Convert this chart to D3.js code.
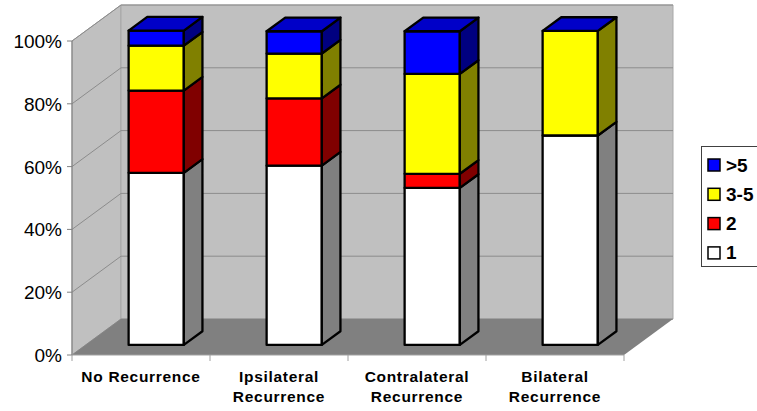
<!DOCTYPE html>
<html>
<head>
<meta charset="utf-8">
<script src="https://cdn.jsdelivr.net/npm/d3@7"></script>
<style>
  html, body { margin: 0; padding: 0; background: #fff; }
  svg { display: block; font-family: Arial, "Liberation Sans", sans-serif; }
</style>
</head>
<body>
<svg id="chart" width="757" height="411"></svg>
<script>
// Categories (x axis) and their two-line labels
const categories = ["No Recurrence", "Ipsilateral Recurrence", "Contralateral Recurrence", "Bilateral Recurrence"];
const categoryLines = [["No Recurrence"], ["Ipsilateral", "Recurrence"], ["Contralateral", "Recurrence"], ["Bilateral", "Recurrence"]];

// Series (stack order bottom → top), percentage of each category
const seriesNames = ["1", "2", "3-5", ">5"];
const series1 = [54.8, 57.1, 50.0, 66.7];
const series2 = [26.2, 21.4, 4.5, 0];
const series3to5 = [14.3, 14.3, 31.8, 33.3];
const seriesOver5 = [4.8, 7.1, 13.6, 0];

const yTicks = [0, 20, 40, 60, 80, 100];
const yTickLabels = ["0%", "20%", "40%", "60%", "80%", "100%"];

// Face colours per series: front, side (shaded), top
const frontColors = ["#ffffff", "#ff0000", "#ffff00", "#0000ff"];
const sideColors = ["#808080", "#800000", "#808000", "#000080"];
const topColors = ["#e0e0e0", "#c00000", "#c0c000", "#0000c8"];

const svg = d3.select("#chart");

// Front plane scales
const x = d3.scaleBand().domain(categories).range([72, 624]).paddingInner(0.6).paddingOuter(0.3);
const y = d3.scaleLinear().domain([0, 100]).range([355, 41]);
// Depth: z in [0,1] shifts a point up and to the right
const depthX = d3.scaleLinear().domain([0, 1]).range([0, 49]);
const depthY = d3.scaleLinear().domain([0, 1]).range([0, -36]);
const P = (sx, sy, z) => [sx + depthX(z), sy + depthY(z)];

const x0 = x.range()[0], x1 = x.range()[1];
const yBot = y(0), yTop = y(100);
const poly = pts => "M" + pts.map(p => p.join(",")).join("L") + "Z";

// Walls and floor
const g = svg.append("g");
g.append("path").attr("d", poly([P(x0, yBot, 0), P(x0, yTop, 0), P(x0, yTop, 1), P(x0, yBot, 1)]))
  .attr("fill", "#c0c0c0").attr("stroke", "#a0a0a0").attr("stroke-width", 1);
g.append("path").attr("d", poly([P(x0, yTop, 1), P(x1, yTop, 1), P(x1, yBot, 1), P(x0, yBot, 1)]))
  .attr("fill", "#c0c0c0").attr("stroke", "#a8a8a8").attr("stroke-width", 1);

// Gridlines on the side wall and back wall
yTicks.forEach(t => {
  const a = P(x0, y(t), 0), b = P(x0, y(t), 1), c = P(x1, y(t), 1);
  g.append("path").attr("d", `M${a}L${b}L${c}`).attr("fill", "none")
    .attr("stroke", "#8c8c8c").attr("stroke-width", 1);
});

g.append("path").attr("d", poly([P(x0, yBot, 0), P(x1, yBot, 0), P(x1, yBot, 1), P(x0, yBot, 1)]))
  .attr("fill", "#808080");

// Axes
g.append("line").attr("x1", x0).attr("x2", x0).attr("y1", yTop).attr("y2", yBot)
  .attr("stroke", "#808080").attr("stroke-width", 1);
yTicks.forEach(t => {
  g.append("line").attr("x1", x0 - 5).attr("x2", x0).attr("y1", y(t)).attr("y2", y(t))
    .attr("stroke", "#808080").attr("stroke-width", 1);
});
g.append("line").attr("x1", x0).attr("x2", x1).attr("y1", yBot).attr("y2", yBot)
  .attr("stroke", "#a0a0a0").attr("stroke-width", 1);
const step = x.step();
d3.range(categories.length + 1).forEach(i => {
  const tx = x0 + i * step;
  g.append("line").attr("x1", tx).attr("x2", tx).attr("y1", yBot).attr("y2", yBot + 6)
    .attr("stroke", "#a0a0a0").attr("stroke-width", 1);
});

// Y tick labels
svg.append("g").selectAll("text").data(yTicks).join("text")
  .attr("x", x0 - 10).attr("y", d => y(d) + 7)
  .attr("text-anchor", "end").attr("font-size", 19).attr("fill", "#000")
  .text((d, i) => yTickLabels[i]);

// X category labels
const xl = svg.append("g");
categories.forEach((c, i) => {
  const cx = x(c) + x.bandwidth() / 2;
  const t = xl.append("text").attr("text-anchor", "middle").attr("font-size", 15.5)
    .attr("font-weight", "bold").attr("letter-spacing", 0.7).attr("fill", "#000");
  categoryLines[i].forEach((line, j) => {
    t.append("tspan").attr("x", cx).attr("y", 382 + j * 20).text(line);
  });
});

// Stacked 3D bars
const rows = categories.map((c, i) => ({
  cat: c, "1": series1[i], "2": series2[i], "3-5": series3to5[i], ">5": seriesOver5[i]
}));
const stacked = d3.stack().keys(seriesNames)(rows);
const zFront = 0.28, zBack = 0.66;
const bars = svg.append("g").attr("transform", "translate(1.5,0)");

categories.forEach((c, i) => {
  const bx0 = x(c), bx1 = x(c) + x.bandwidth();
  stacked.forEach((layer, s) => {
    const [v0, v1] = layer[i];
    if (v1 - v0 <= 0) return;
    const ya = y(v0), yb = y(v1);
    // front face
    bars.append("path").attr("d", poly([P(bx0, ya, zFront), P(bx1, ya, zFront), P(bx1, yb, zFront), P(bx0, yb, zFront)]))
      .attr("fill", frontColors[s]).attr("stroke", "#000").attr("stroke-width", 2.3).attr("stroke-linejoin", "round");
    // right side face
    bars.append("path").attr("d", poly([P(bx1, ya, zFront), P(bx1, ya, zBack), P(bx1, yb, zBack), P(bx1, yb, zFront)]))
      .attr("fill", sideColors[s]).attr("stroke", "#000").attr("stroke-width", 2.3).attr("stroke-linejoin", "round");
  });
  // top face, in the colour of the last series
  const top = stacked[stacked.length - 1][i][1];
  const yt = y(top);
  const last = stacked.length - 1;
  bars.append("path").attr("d", poly([P(bx0, yt, zFront), P(bx1, yt, zFront), P(bx1, yt, zBack), P(bx0, yt, zBack)]))
    .attr("fill", topColors[last]).attr("stroke", "#000").attr("stroke-width", 2.3).attr("stroke-linejoin", "round");
});

// Legend
const lg = svg.append("g");
lg.append("rect").attr("x", 701.5).attr("y", 146.5).attr("width", 80).attr("height", 120)
  .attr("fill", "#fff").attr("stroke", "#404040").attr("stroke-width", 1);
const legendOrder = seriesNames.map((n, i) => i).reverse();
legendOrder.forEach((s, k) => {
  const cy = 165 + k * 29.3;
  lg.append("rect").attr("x", 708).attr("y", cy - 6).attr("width", 12).attr("height", 12)
    .attr("fill", frontColors[s]).attr("stroke", "#000").attr("stroke-width", 1.5);
  lg.append("text").attr("x", 726).attr("y", cy + 6.5).attr("font-size", 19)
    .attr("font-weight", "bold").attr("fill", "#000").text(seriesNames[s]);
});
</script>
</body>
</html>
